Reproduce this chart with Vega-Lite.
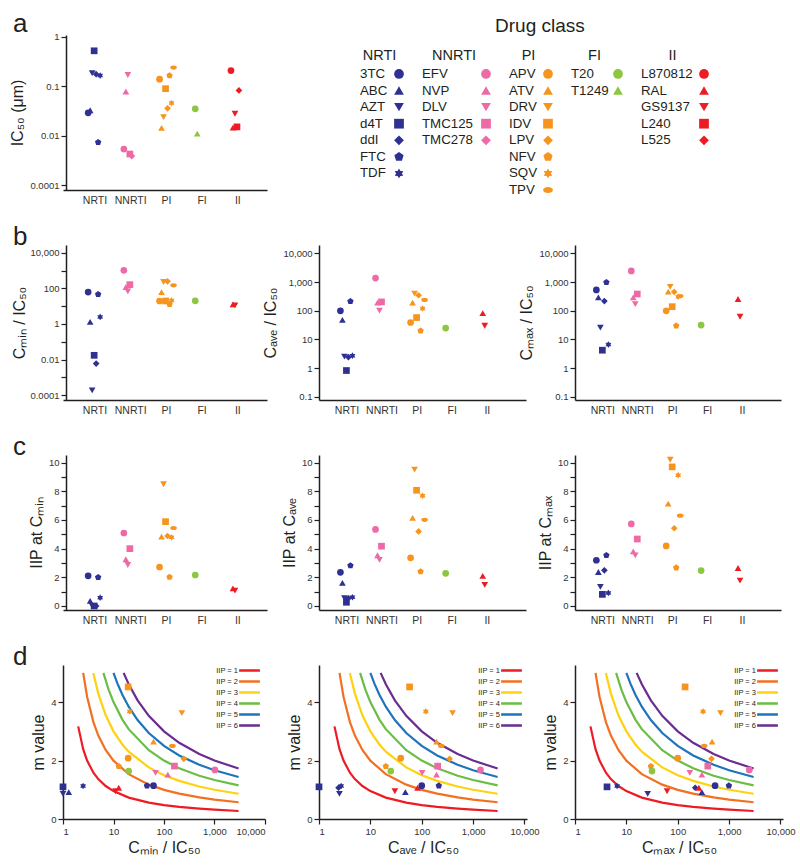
{
  "$schema": "https://vega.github.io/schema/vega-lite/v6.json",
  "padding": {"left": 9, "top": 10, "right": 5, "bottom": 5},
  "columns": 3,
  "align": "all",
  "bounds": "flush",
  "spacing": {"row": 55, "column": 48},
  "datasets": {
    "drugs": [
      {"drug":"3TC","cls":"NRTI","k":1,"ic50":0.0293,"cmin":62,"cave":100,"cmax":533,"iipmin":2.1,"iipave":2.35,"iipmax":3.19,"m":1.14},
      {"drug":"ABC","cls":"NRTI","k":2,"ic50":0.033,"cmin":1.3,"cave":48,"cmax":295,"iipmin":0.35,"iipave":1.61,"iipmax":2.37,"m":0.92},
      {"drug":"AZT","cls":"NRTI","k":3,"ic50":0.185,"cmin":0.00019,"cave":2.5,"cmax":26,"iipmin":0.0,"iipave":0.54,"iipmax":1.33,"m":0.86},
      {"drug":"d4T","cls":"NRTI","k":4,"ic50":0.525,"cmin":0.0175,"cave":0.82,"cmax":4.2,"iipmin":0.0,"iipave":0.26,"iipmax":0.81,"m":1.1},
      {"drug":"ddI","cls":"NRTI","k":5,"ic50":0.177,"cmin":0.006,"cave":2.4,"cmax":219,"iipmin":0.0,"iipave":0.54,"iipmax":2.49,"m":1.07},
      {"drug":"FTC","cls":"NRTI","k":6,"ic50":0.0074,"cmin":46,"cave":215,"cmax":990,"iipmin":2.0,"iipave":2.82,"iipmax":3.53,"m":1.14},
      {"drug":"TDF","cls":"NRTI","k":7,"ic50":0.166,"cmin":2.5,"cave":2.7,"cmax":6.6,"iipmin":0.58,"iipave":0.61,"iipmax":0.91,"m":1.13},
      {"drug":"EFV","cls":"NNRTI","k":1,"ic50":0.0054,"cmin":1020,"cave":1390,"cmax":2470,"iipmin":5.09,"iipave":5.34,"iipmax":5.72,"m":1.68},
      {"drug":"NVP","cls":"NNRTI","k":2,"ic50":0.079,"cmin":119,"cave":194,"cmax":295,"iipmin":3.26,"iipave":3.54,"iipmax":3.81,"m":1.52},
      {"drug":"DLV","cls":"NNRTI","k":3,"ic50":0.17,"cmin":68,"cave":102,"cmax":172,"iipmin":2.86,"iipave":3.22,"iipmax":3.53,"m":1.58},
      {"drug":"TMC125","cls":"NNRTI","k":4,"ic50":0.0043,"cmin":161,"cave":204,"cmax":385,"iipmin":4.0,"iipave":4.17,"iipmax":4.67,"m":1.81},
      {"drug":"TMC278","cls":"NNRTI","k":5,"ic50":0.0039},
      {"drug":"APV","cls":"PI","k":1,"ic50":0.14,"cmin":19.5,"cave":39,"cmax":100,"iipmin":2.72,"iipave":3.36,"iipmax":4.19,"m":2.08},
      {"drug":"ATV","cls":"PI","k":2,"ic50":0.0145,"cmin":62,"cave":194,"cmax":466,"iipmin":4.84,"iipave":6.15,"iipmax":7.14,"m":2.65},
      {"drug":"DRV","cls":"PI","k":3,"ic50":0.024,"cmin":226,"cave":398,"cmax":680,"iipmin":8.49,"iipave":9.51,"iipmax":10.2,"m":3.62},
      {"drug":"IDV","cls":"PI","k":4,"ic50":0.09,"cmin":19.5,"cave":58,"cmax":139,"iipmin":5.88,"iipave":8.07,"iipmax":9.7,"m":4.52},
      {"drug":"LPV","cls":"PI","k":5,"ic50":0.036,"cmin":247,"cave":348,"cmax":454,"iipmin":4.88,"iipave":5.2,"iipmax":5.42,"m":2.06},
      {"drug":"NFV","cls":"PI","k":6,"ic50":0.166,"cmin":12.7,"cave":20,"cmax":30,"iipmin":2.02,"iipave":2.4,"iipmax":2.67,"m":1.8},
      {"drug":"SQV","cls":"PI","k":7,"ic50":0.046,"cmin":21,"cave":120,"cmax":311,"iipmin":4.79,"iipave":7.69,"iipmax":9.12,"m":3.68},
      {"drug":"TPV","cls":"PI","k":8,"ic50":0.24,"cmin":147,"cave":240,"cmax":328,"iipmin":5.44,"iipave":6.01,"iipmax":6.3,"m":2.5},
      {"drug":"T20","cls":"FI","k":1,"ic50":0.0352,"cmin":20,"cave":25,"cmax":31.6,"iipmin":2.16,"iipave":2.28,"iipmax":2.47,"m":1.64},
      {"drug":"T1249","cls":"FI","k":2,"ic50":0.0111},
      {"drug":"L870812","cls":"II","k":1,"ic50":0.209},
      {"drug":"RAL","cls":"II","k":2,"ic50":0.0147,"cmin":12.7,"cave":83,"cmax":258,"iipmin":1.23,"iipave":2.1,"iipmax":2.65,"m":1.07},
      {"drug":"GS9137","cls":"II","k":3,"ic50":0.028,"cmin":11,"cave":30,"cmax":62,"iipmin":1.07,"iipave":1.47,"iipmax":1.77,"m":0.95},
      {"drug":"L240","cls":"II","k":4,"ic50":0.0152},
      {"drug":"L525","cls":"II","k":5,"ic50":0.083}
    ],
    "curves": [
      {"iip":"IIP = 1","x":2,"m":3.17},{"iip":"IIP = 1","x":2.5,"m":2.398},{"iip":"IIP = 1","x":3,"m":2.0},{"iip":"IIP = 1","x":4,"m":1.585},{"iip":"IIP = 1","x":5,"m":1.365},{"iip":"IIP = 1","x":7,"m":1.129},{"iip":"IIP = 1","x":10,"m":0.954},{"iip":"IIP = 1","x":20,"m":0.733},{"iip":"IIP = 1","x":50,"m":0.562},{"iip":"IIP = 1","x":100,"m":0.477},{"iip":"IIP = 1","x":200,"m":0.415},{"iip":"IIP = 1","x":500,"m":0.354},{"iip":"IIP = 1","x":1000,"m":0.318},{"iip":"IIP = 1","x":3000,"m":0.274},
      {"iip":"IIP = 2","x":2.51,"m":5.0},{"iip":"IIP = 2","x":3,"m":4.183},{"iip":"IIP = 2","x":4,"m":3.315},{"iip":"IIP = 2","x":5,"m":2.855},{"iip":"IIP = 2","x":7,"m":2.362},{"iip":"IIP = 2","x":10,"m":1.996},{"iip":"IIP = 2","x":20,"m":1.534},{"iip":"IIP = 2","x":50,"m":1.175},{"iip":"IIP = 2","x":100,"m":0.998},{"iip":"IIP = 2","x":200,"m":0.867},{"iip":"IIP = 2","x":500,"m":0.739},{"iip":"IIP = 2","x":1000,"m":0.665},{"iip":"IIP = 2","x":3000,"m":0.574},
      {"iip":"IIP = 3","x":3.98,"m":5.0},{"iip":"IIP = 3","x":5,"m":4.292},{"iip":"IIP = 3","x":7,"m":3.55},{"iip":"IIP = 3","x":10,"m":3.0},{"iip":"IIP = 3","x":15,"m":2.551},{"iip":"IIP = 3","x":20,"m":2.306},{"iip":"IIP = 3","x":50,"m":1.766},{"iip":"IIP = 3","x":100,"m":1.5},{"iip":"IIP = 3","x":200,"m":1.304},{"iip":"IIP = 3","x":500,"m":1.112},{"iip":"IIP = 3","x":1000,"m":1.0},{"iip":"IIP = 3","x":3000,"m":0.863},
      {"iip":"IIP = 4","x":6.31,"m":5.0},{"iip":"IIP = 4","x":8,"m":4.429},{"iip":"IIP = 4","x":10,"m":4.0},{"iip":"IIP = 4","x":15,"m":3.401},{"iip":"IIP = 4","x":20,"m":3.074},{"iip":"IIP = 4","x":50,"m":2.354},{"iip":"IIP = 4","x":100,"m":2.0},{"iip":"IIP = 4","x":200,"m":1.738},{"iip":"IIP = 4","x":500,"m":1.482},{"iip":"IIP = 4","x":1000,"m":1.333},{"iip":"IIP = 4","x":3000,"m":1.15},
      {"iip":"IIP = 5","x":10,"m":5.0},{"iip":"IIP = 5","x":12,"m":4.633},{"iip":"IIP = 5","x":15,"m":4.251},{"iip":"IIP = 5","x":20,"m":3.843},{"iip":"IIP = 5","x":30,"m":3.385},{"iip":"IIP = 5","x":50,"m":2.943},{"iip":"IIP = 5","x":100,"m":2.5},{"iip":"IIP = 5","x":200,"m":2.173},{"iip":"IIP = 5","x":500,"m":1.853},{"iip":"IIP = 5","x":1000,"m":1.667},{"iip":"IIP = 5","x":3000,"m":1.438},
      {"iip":"IIP = 6","x":15.85,"m":5.0},{"iip":"IIP = 6","x":20,"m":4.612},{"iip":"IIP = 6","x":30,"m":4.062},{"iip":"IIP = 6","x":50,"m":3.532},{"iip":"IIP = 6","x":100,"m":3.0},{"iip":"IIP = 6","x":200,"m":2.607},{"iip":"IIP = 6","x":500,"m":2.223},{"iip":"IIP = 6","x":1000,"m":2.0},{"iip":"IIP = 6","x":3000,"m":1.726}
    ]
  },
  "concat": [
    {
      "width": 204, "height": 155,
      "title": {"text": "a", "anchor": "start", "fontSize": 26, "dx": -50, "offset": -26, "baseline": "alphabetic", "frame": "group"},
      "data": {"name": "drugs"},
      "mark": {"type": "point", "filled": true, "opacity": 1, "size": 45},
      "encoding": {
        "x": {"field": "cls", "type": "nominal", "sort": ["NRTI","NNRTI","PI","FI","II"], "scale": {"domain": ["NRTI","NNRTI","PI","FI","II"], "paddingInner": 0, "paddingOuter": 0.357, "align": 0.555}, "axis": {"title": null, "ticks": false, "labelAngle": 0, "labelFontSize": 10.5, "labelPadding": 5}},
        "xOffset": {"field": "k", "type": "nominal", "scale": {"domain": [1,2,3,4,5,6,7,8], "range": [10, 26]}},
        "y": {"field": "ic50", "type": "quantitative", "scale": {"type": "log", "domain": [0.000805, 1.096], "nice": false}, "axis": {"title": "IC₅₀ (μm)", "values": [0.001, 0.01, 0.1, 1], "format": "~g", "labelExpr": "datum.value < 0.005 ? '0.0001' : datum.label", "offset": -3}},
        "fill": {"field": "cls", "type": "nominal", "scale": {"domain": ["NRTI","NNRTI","PI","FI","II"], "range": ["#2e3192","#ee6aa7","#f7941d","#8dc63f","#ed1c24"]}, "legend": null},
        "shape": {"field": "k", "type": "nominal", "scale": {"domain": [1,2,3,4,5,6,7,8], "range": ["circle","triangle-up","triangle-down","square","diamond","M0,-1L0.951,-0.309L0.588,0.809L-0.588,0.809L-0.951,-0.309Z","M0,-1L0.3,-0.52L0.866,-0.5L0.6,0L0.866,0.5L0.3,0.52L0,1L-0.3,0.52L-0.866,0.5L-0.6,0L-0.866,-0.5L-0.3,-0.52Z","M-1,0A1,0.62,0,1,1,1,0A1,0.62,0,1,1,-1,0Z"]}, "legend": null}
      }
    },
    {
      "title": {"text": "Drug class", "fontSize": 19, "anchor": "middle", "offset": -15.5, "baseline": "alphabetic", "dx": 26},
      "bounds": "flush",
      "spacing": 23,
      "hconcat": [
        {
          "width": 80, "height": 155,
          "title": {"text": "NRTI", "anchor": "middle", "fontSize": 14.5, "offset": -39.6, "baseline": "alphabetic", "frame": "group", "dx": 20.5},
          "data": {"name": "drugs"},
          "transform": [{"filter": "datum.cls === 'NRTI'"}],
          "encoding": {"y": {"field": "k", "type": "quantitative", "scale": {"domain": [-1.35, 8], "reverse": true, "nice": false, "zero": false}, "axis": null}},
          "layer": [
            {"mark": {"type": "text", "align": "left", "baseline": "middle", "fontSize": 13.3, "color": "#231f20"}, "encoding": {"x": {"datum": 0, "type": "quantitative", "scale": {"domain": [-1.051, 1], "nice": false, "zero": false}, "axis": null}, "text": {"field": "drug"}}},
            {"mark": {"type": "point", "filled": true, "opacity": 1, "size": 95}, "encoding": {"x": {"datum": 1, "type": "quantitative"},
              "fill": {"field": "cls", "type": "nominal", "scale": {"domain": ["NRTI","NNRTI","PI","FI","II"], "range": ["#2e3192","#ee6aa7","#f7941d","#8dc63f","#ed1c24"]}, "legend": null},
              "shape": {"field": "k", "type": "nominal", "scale": {"domain": [1,2,3,4,5,6,7,8], "range": ["circle","triangle-up","triangle-down","square","diamond","M0,-1L0.951,-0.309L0.588,0.809L-0.588,0.809L-0.951,-0.309Z","M0,-1L0.3,-0.52L0.866,-0.5L0.6,0L0.866,0.5L0.3,0.52L0,1L-0.3,0.52L-0.866,0.5L-0.6,0L-0.866,-0.5L-0.3,-0.52Z","M-1,0A1,0.62,0,1,1,1,0A1,0.62,0,1,1,-1,0Z"]}, "legend": null}}}
          ]
        },
        {
          "width": 64, "height": 155,
          "title": {"text": "NNRTI", "anchor": "middle", "fontSize": 14.5, "offset": -39.6, "baseline": "alphabetic", "frame": "group"},
          "data": {"name": "drugs"},
          "transform": [{"filter": "datum.cls === 'NNRTI'"}],
          "encoding": {"y": {"field": "k", "type": "quantitative", "scale": {"domain": [-1.35, 8], "reverse": true, "nice": false, "zero": false}, "axis": null}},
          "layer": [
            {"mark": {"type": "text", "align": "left", "baseline": "middle", "fontSize": 13.3, "color": "#231f20"}, "encoding": {"x": {"datum": 0, "type": "quantitative", "scale": {"domain": [0, 1], "nice": false}, "axis": null}, "text": {"field": "drug"}}},
            {"mark": {"type": "point", "filled": true, "opacity": 1, "size": 95}, "encoding": {"x": {"datum": 1, "type": "quantitative"},
              "fill": {"field": "cls", "type": "nominal", "scale": {"domain": ["NRTI","NNRTI","PI","FI","II"], "range": ["#2e3192","#ee6aa7","#f7941d","#8dc63f","#ed1c24"]}, "legend": null},
              "shape": {"field": "k", "type": "nominal", "scale": {"domain": [1,2,3,4,5,6,7,8], "range": ["circle","triangle-up","triangle-down","square","diamond","M0,-1L0.951,-0.309L0.588,0.809L-0.588,0.809L-0.951,-0.309Z","M0,-1L0.3,-0.52L0.866,-0.5L0.6,0L0.866,0.5L0.3,0.52L0,1L-0.3,0.52L-0.866,0.5L-0.6,0L-0.866,-0.5L-0.3,-0.52Z","M-1,0A1,0.62,0,1,1,1,0A1,0.62,0,1,1,-1,0Z"]}, "legend": null}}}
          ]
        },
        {
          "width": 39, "height": 155,
          "title": {"text": "PI", "anchor": "middle", "fontSize": 14.5, "offset": -39.6, "baseline": "alphabetic", "frame": "group"},
          "data": {"name": "drugs"},
          "transform": [{"filter": "datum.cls === 'PI'"}],
          "encoding": {"y": {"field": "k", "type": "quantitative", "scale": {"domain": [-1.35, 8], "reverse": true, "nice": false, "zero": false}, "axis": null}},
          "layer": [
            {"mark": {"type": "text", "align": "left", "baseline": "middle", "fontSize": 13.3, "color": "#231f20"}, "encoding": {"x": {"datum": 0, "type": "quantitative", "scale": {"domain": [0, 1], "nice": false}, "axis": null}, "text": {"field": "drug"}}},
            {"mark": {"type": "point", "filled": true, "opacity": 1, "size": 95}, "encoding": {"x": {"datum": 1, "type": "quantitative"},
              "fill": {"field": "cls", "type": "nominal", "scale": {"domain": ["NRTI","NNRTI","PI","FI","II"], "range": ["#2e3192","#ee6aa7","#f7941d","#8dc63f","#ed1c24"]}, "legend": null},
              "shape": {"field": "k", "type": "nominal", "scale": {"domain": [1,2,3,4,5,6,7,8], "range": ["circle","triangle-up","triangle-down","square","diamond","M0,-1L0.951,-0.309L0.588,0.809L-0.588,0.809L-0.951,-0.309Z","M0,-1L0.3,-0.52L0.866,-0.5L0.6,0L0.866,0.5L0.3,0.52L0,1L-0.3,0.52L-0.866,0.5L-0.6,0L-0.866,-0.5L-0.3,-0.52Z","M-1,0A1,0.62,0,1,1,1,0A1,0.62,0,1,1,-1,0Z"]}, "legend": null}}}
          ]
        },
        {
          "width": 47, "height": 155,
          "title": {"text": "FI", "anchor": "middle", "fontSize": 14.5, "offset": -39.6, "baseline": "alphabetic", "frame": "group"},
          "data": {"name": "drugs"},
          "transform": [{"filter": "datum.cls === 'FI'"}],
          "encoding": {"y": {"field": "k", "type": "quantitative", "scale": {"domain": [-1.35, 8], "reverse": true, "nice": false, "zero": false}, "axis": null}},
          "layer": [
            {"mark": {"type": "text", "align": "left", "baseline": "middle", "fontSize": 13.3, "color": "#231f20"}, "encoding": {"x": {"datum": 0, "type": "quantitative", "scale": {"domain": [0, 1], "nice": false}, "axis": null}, "text": {"field": "drug"}}},
            {"mark": {"type": "point", "filled": true, "opacity": 1, "size": 95}, "encoding": {"x": {"datum": 1, "type": "quantitative"},
              "fill": {"field": "cls", "type": "nominal", "scale": {"domain": ["NRTI","NNRTI","PI","FI","II"], "range": ["#2e3192","#ee6aa7","#f7941d","#8dc63f","#ed1c24"]}, "legend": null},
              "shape": {"field": "k", "type": "nominal", "scale": {"domain": [1,2,3,4,5,6,7,8], "range": ["circle","triangle-up","triangle-down","square","diamond","M0,-1L0.951,-0.309L0.588,0.809L-0.588,0.809L-0.951,-0.309Z","M0,-1L0.3,-0.52L0.866,-0.5L0.6,0L0.866,0.5L0.3,0.52L0,1L-0.3,0.52L-0.866,0.5L-0.6,0L-0.866,-0.5L-0.3,-0.52Z","M-1,0A1,0.62,0,1,1,1,0A1,0.62,0,1,1,-1,0Z"]}, "legend": null}}}
          ]
        },
        {
          "width": 63, "height": 155,
          "title": {"text": "II", "anchor": "middle", "fontSize": 14.5, "offset": -39.6, "baseline": "alphabetic", "frame": "group"},
          "data": {"name": "drugs"},
          "transform": [{"filter": "datum.cls === 'II'"}],
          "encoding": {"y": {"field": "k", "type": "quantitative", "scale": {"domain": [-1.35, 8], "reverse": true, "nice": false, "zero": false}, "axis": null}},
          "layer": [
            {"mark": {"type": "text", "align": "left", "baseline": "middle", "fontSize": 13.3, "color": "#231f20"}, "encoding": {"x": {"datum": 0, "type": "quantitative", "scale": {"domain": [0, 1], "nice": false}, "axis": null}, "text": {"field": "drug"}}},
            {"mark": {"type": "point", "filled": true, "opacity": 1, "size": 95}, "encoding": {"x": {"datum": 1, "type": "quantitative"},
              "fill": {"field": "cls", "type": "nominal", "scale": {"domain": ["NRTI","NNRTI","PI","FI","II"], "range": ["#2e3192","#ee6aa7","#f7941d","#8dc63f","#ed1c24"]}, "legend": null},
              "shape": {"field": "k", "type": "nominal", "scale": {"domain": [1,2,3,4,5,6,7,8], "range": ["circle","triangle-up","triangle-down","square","diamond","M0,-1L0.951,-0.309L0.588,0.809L-0.588,0.809L-0.951,-0.309Z","M0,-1L0.3,-0.52L0.866,-0.5L0.6,0L0.866,0.5L0.3,0.52L0,1L-0.3,0.52L-0.866,0.5L-0.6,0L-0.866,-0.5L-0.3,-0.52Z","M-1,0A1,0.62,0,1,1,1,0A1,0.62,0,1,1,-1,0Z"]}, "legend": null}}}
          ]
        }
      ]
    },
    {
      "width": 1, "height": 1,
      "data": {"values": []},
      "mark": {"type": "point", "opacity": 0},
      "encoding": {}
    },
    {
      "width": 204, "height": 155,
      "title": {"text": "b", "anchor": "start", "fontSize": 26, "dx": -50, "offset": -26, "baseline": "alphabetic", "frame": "group"},
      "data": {"name": "drugs"},
      "mark": {"type": "point", "filled": true, "opacity": 1, "size": 45},
      "encoding": {
        "x": {"field": "cls", "type": "nominal", "sort": ["NRTI","NNRTI","PI","FI","II"], "scale": {"domain": ["NRTI","NNRTI","PI","FI","II"], "paddingInner": 0, "paddingOuter": 0.357, "align": 0.555}, "axis": {"title": null, "ticks": false, "labelAngle": 0, "labelFontSize": 10.5, "labelPadding": 5}},
        "xOffset": {"field": "k", "type": "nominal", "scale": {"domain": [1,2,3,4,5,6,7,8], "range": [10, 26]}},
        "y": {"field": "cmin", "type": "quantitative", "scale": {"type": "log", "domain": [0.0000545, 27000], "nice": false}, "axis": {"title": "Cₘᵢₙ / IC₅₀", "titlePadding": 2, "values": [0.0001, 0.001, 0.01, 0.1, 1, 10, 100, 1000, 10000], "format": ",~g", "labelExpr": "(round(log(datum.value)/LN10) % 2) == 0 ? datum.label : ''", "offset": -3}},
        "fill": {"field": "cls", "type": "nominal", "scale": {"domain": ["NRTI","NNRTI","PI","FI","II"], "range": ["#2e3192","#ee6aa7","#f7941d","#8dc63f","#ed1c24"]}, "legend": null},
        "shape": {"field": "k", "type": "nominal", "scale": {"domain": [1,2,3,4,5,6,7,8], "range": ["circle","triangle-up","triangle-down","square","diamond","M0,-1L0.951,-0.309L0.588,0.809L-0.588,0.809L-0.951,-0.309Z","M0,-1L0.3,-0.52L0.866,-0.5L0.6,0L0.866,0.5L0.3,0.52L0,1L-0.3,0.52L-0.866,0.5L-0.6,0L-0.866,-0.5L-0.3,-0.52Z","M-1,0A1,0.62,0,1,1,1,0A1,0.62,0,1,1,-1,0Z"]}, "legend": null}
      }
    },
    {
      "width": 207, "height": 155,
      "data": {"name": "drugs"},
      "mark": {"type": "point", "filled": true, "opacity": 1, "size": 45},
      "encoding": {
        "x": {"field": "cls", "type": "nominal", "sort": ["NRTI","NNRTI","PI","FI","II"], "scale": {"domain": ["NRTI","NNRTI","PI","FI","II"], "paddingInner": 0, "paddingOuter": 0.45, "align": 0.33}, "axis": {"title": null, "ticks": false, "labelAngle": 0, "labelFontSize": 10.5, "labelPadding": 5}},
        "xOffset": {"field": "k", "type": "nominal", "scale": {"domain": [1,2,3,4,5,6,7,8], "range": [10, 26]}},
        "y": {"field": "cave", "type": "quantitative", "scale": {"type": "log", "domain": [0.0767, 19800], "nice": false}, "axis": {"title": "Cₐᵥₑ / IC₅₀", "values": [0.1, 1, 10, 100, 1000, 10000], "format": ",~g"}},
        "fill": {"field": "cls", "type": "nominal", "scale": {"domain": ["NRTI","NNRTI","PI","FI","II"], "range": ["#2e3192","#ee6aa7","#f7941d","#8dc63f","#ed1c24"]}, "legend": null},
        "shape": {"field": "k", "type": "nominal", "scale": {"domain": [1,2,3,4,5,6,7,8], "range": ["circle","triangle-up","triangle-down","square","diamond","M0,-1L0.951,-0.309L0.588,0.809L-0.588,0.809L-0.951,-0.309Z","M0,-1L0.3,-0.52L0.866,-0.5L0.6,0L0.866,0.5L0.3,0.52L0,1L-0.3,0.52L-0.866,0.5L-0.6,0L-0.866,-0.5L-0.3,-0.52Z","M-1,0A1,0.62,0,1,1,1,0A1,0.62,0,1,1,-1,0Z"]}, "legend": null}
      }
    },
    {
      "width": 206, "height": 155,
      "data": {"name": "drugs"},
      "mark": {"type": "point", "filled": true, "opacity": 1, "size": 45},
      "encoding": {
        "x": {"field": "cls", "type": "nominal", "sort": ["NRTI","NNRTI","PI","FI","II"], "scale": {"domain": ["NRTI","NNRTI","PI","FI","II"], "paddingInner": 0, "paddingOuter": 0.45, "align": 0.33}, "axis": {"title": null, "ticks": false, "labelAngle": 0, "labelFontSize": 10.5, "labelPadding": 5}},
        "xOffset": {"field": "k", "type": "nominal", "scale": {"domain": [1,2,3,4,5,6,7,8], "range": [10, 26]}},
        "y": {"field": "cmax", "type": "quantitative", "scale": {"type": "log", "domain": [0.0767, 19800], "nice": false}, "axis": {"title": "Cₘₐₓ / IC₅₀", "values": [0.1, 1, 10, 100, 1000, 10000], "format": ",~g"}},
        "fill": {"field": "cls", "type": "nominal", "scale": {"domain": ["NRTI","NNRTI","PI","FI","II"], "range": ["#2e3192","#ee6aa7","#f7941d","#8dc63f","#ed1c24"]}, "legend": null},
        "shape": {"field": "k", "type": "nominal", "scale": {"domain": [1,2,3,4,5,6,7,8], "range": ["circle","triangle-up","triangle-down","square","diamond","M0,-1L0.951,-0.309L0.588,0.809L-0.588,0.809L-0.951,-0.309Z","M0,-1L0.3,-0.52L0.866,-0.5L0.6,0L0.866,0.5L0.3,0.52L0,1L-0.3,0.52L-0.866,0.5L-0.6,0L-0.866,-0.5L-0.3,-0.52Z","M-1,0A1,0.62,0,1,1,1,0A1,0.62,0,1,1,-1,0Z"]}, "legend": null}
      }
    },
    {
      "width": 204, "height": 155,
      "title": {"text": "c", "anchor": "start", "fontSize": 26, "dx": -50, "offset": -26, "baseline": "alphabetic", "frame": "group"},
      "data": {"name": "drugs"},
      "mark": {"type": "point", "filled": true, "opacity": 1, "size": 45},
      "encoding": {
        "x": {"field": "cls", "type": "nominal", "sort": ["NRTI","NNRTI","PI","FI","II"], "scale": {"domain": ["NRTI","NNRTI","PI","FI","II"], "paddingInner": 0, "paddingOuter": 0.357, "align": 0.555}, "axis": {"title": null, "ticks": false, "labelAngle": 0, "labelFontSize": 10.5, "labelPadding": 5}},
        "xOffset": {"field": "k", "type": "nominal", "scale": {"domain": [1,2,3,4,5,6,7,8], "range": [10, 26]}},
        "y": {"field": "iipmin", "type": "quantitative", "scale": {"domain": [-0.28, 10.53], "nice": false, "zero": false}, "axis": {"title": "IIP at Cₘᵢₙ", "values": [0,1,2,3,4,5,6,7,8,9,10], "labelExpr": "datum.value % 2 == 0 ? datum.label : ''", "offset": -3}},
        "fill": {"field": "cls", "type": "nominal", "scale": {"domain": ["NRTI","NNRTI","PI","FI","II"], "range": ["#2e3192","#ee6aa7","#f7941d","#8dc63f","#ed1c24"]}, "legend": null},
        "shape": {"field": "k", "type": "nominal", "scale": {"domain": [1,2,3,4,5,6,7,8], "range": ["circle","triangle-up","triangle-down","square","diamond","M0,-1L0.951,-0.309L0.588,0.809L-0.588,0.809L-0.951,-0.309Z","M0,-1L0.3,-0.52L0.866,-0.5L0.6,0L0.866,0.5L0.3,0.52L0,1L-0.3,0.52L-0.866,0.5L-0.6,0L-0.866,-0.5L-0.3,-0.52Z","M-1,0A1,0.62,0,1,1,1,0A1,0.62,0,1,1,-1,0Z"]}, "legend": null}
      }
    },
    {
      "width": 207, "height": 155,
      "data": {"name": "drugs"},
      "mark": {"type": "point", "filled": true, "opacity": 1, "size": 45},
      "encoding": {
        "x": {"field": "cls", "type": "nominal", "sort": ["NRTI","NNRTI","PI","FI","II"], "scale": {"domain": ["NRTI","NNRTI","PI","FI","II"], "paddingInner": 0, "paddingOuter": 0.45, "align": 0.33}, "axis": {"title": null, "ticks": false, "labelAngle": 0, "labelFontSize": 10.5, "labelPadding": 5}},
        "xOffset": {"field": "k", "type": "nominal", "scale": {"domain": [1,2,3,4,5,6,7,8], "range": [10, 26]}},
        "y": {"field": "iipave", "type": "quantitative", "scale": {"domain": [-0.28, 10.53], "nice": false, "zero": false}, "axis": {"title": "IIP at Cₐᵥₑ", "values": [0,1,2,3,4,5,6,7,8,9,10], "labelExpr": "datum.value % 2 == 0 ? datum.label : ''"}},
        "fill": {"field": "cls", "type": "nominal", "scale": {"domain": ["NRTI","NNRTI","PI","FI","II"], "range": ["#2e3192","#ee6aa7","#f7941d","#8dc63f","#ed1c24"]}, "legend": null},
        "shape": {"field": "k", "type": "nominal", "scale": {"domain": [1,2,3,4,5,6,7,8], "range": ["circle","triangle-up","triangle-down","square","diamond","M0,-1L0.951,-0.309L0.588,0.809L-0.588,0.809L-0.951,-0.309Z","M0,-1L0.3,-0.52L0.866,-0.5L0.6,0L0.866,0.5L0.3,0.52L0,1L-0.3,0.52L-0.866,0.5L-0.6,0L-0.866,-0.5L-0.3,-0.52Z","M-1,0A1,0.62,0,1,1,1,0A1,0.62,0,1,1,-1,0Z"]}, "legend": null}
      }
    },
    {
      "width": 206, "height": 155,
      "data": {"name": "drugs"},
      "mark": {"type": "point", "filled": true, "opacity": 1, "size": 45},
      "encoding": {
        "x": {"field": "cls", "type": "nominal", "sort": ["NRTI","NNRTI","PI","FI","II"], "scale": {"domain": ["NRTI","NNRTI","PI","FI","II"], "paddingInner": 0, "paddingOuter": 0.45, "align": 0.33}, "axis": {"title": null, "ticks": false, "labelAngle": 0, "labelFontSize": 10.5, "labelPadding": 5}},
        "xOffset": {"field": "k", "type": "nominal", "scale": {"domain": [1,2,3,4,5,6,7,8], "range": [10, 26]}},
        "y": {"field": "iipmax", "type": "quantitative", "scale": {"domain": [-0.28, 10.53], "nice": false, "zero": false}, "axis": {"title": "IIP at Cₘₐₓ", "values": [0,1,2,3,4,5,6,7,8,9,10], "labelExpr": "datum.value % 2 == 0 ? datum.label : ''"}},
        "fill": {"field": "cls", "type": "nominal", "scale": {"domain": ["NRTI","NNRTI","PI","FI","II"], "range": ["#2e3192","#ee6aa7","#f7941d","#8dc63f","#ed1c24"]}, "legend": null},
        "shape": {"field": "k", "type": "nominal", "scale": {"domain": [1,2,3,4,5,6,7,8], "range": ["circle","triangle-up","triangle-down","square","diamond","M0,-1L0.951,-0.309L0.588,0.809L-0.588,0.809L-0.951,-0.309Z","M0,-1L0.3,-0.52L0.866,-0.5L0.6,0L0.866,0.5L0.3,0.52L0,1L-0.3,0.52L-0.866,0.5L-0.6,0L-0.866,-0.5L-0.3,-0.52Z","M-1,0A1,0.62,0,1,1,1,0A1,0.62,0,1,1,-1,0Z"]}, "legend": null}
      }
    },
    {
      "width": 202, "height": 154,
      "title": {"text": "d", "anchor": "start", "fontSize": 26, "dx": -50, "offset": -26, "baseline": "alphabetic", "frame": "group"},
      "layer": [
        {
          "data": {"name": "curves"},
          "mark": {"type": "line", "strokeWidth": 2.2},
          "encoding": {
            "x": {"field": "x", "type": "quantitative", "title": "Cₘᵢₙ / IC₅₀", "scale": {"type": "log", "domain": [1, 10000], "nice": false, "clamp": true}, "axis": {"values": [1, 10, 100, 1000, 10000], "format": ",~g"}},
            "y": {"field": "m", "type": "quantitative", "title": "m value", "scale": {"domain": [0, 5.27], "nice": false}, "axis": {"values": [0,0.5,1,1.5,2,2.5,3,3.5,4,4.5,5], "labelExpr": "datum.value % 1 == 0 ? datum.label : ''"}},
            "stroke": {"field": "iip", "type": "nominal", "scale": {"domain": ["IIP = 1","IIP = 2","IIP = 3","IIP = 4","IIP = 5","IIP = 6"], "range": ["#ed1c24","#f37021","#fdd20e","#6abd45","#1c75bc","#6a2c91"]}, "legend": {"title": null, "orient": "top-right", "offset": 0, "padding": 0, "symbolType": "M-2.6,0L2.6,0", "symbolSize": 64, "symbolStrokeWidth": 2.5, "labelFontSize": 7.5, "labelColor": "#231f20", "labelAlign": "right", "labelOffset": -17, "rowPadding": 0}}
          }
        },
        {
          "data": {"name": "drugs"},
          "mark": {"type": "point", "filled": true, "opacity": 1, "size": 45},
          "encoding": {
            "x": {"field": "cmin", "type": "quantitative", "title": "Cₘᵢₙ / IC₅₀"},
            "y": {"field": "m", "type": "quantitative", "title": "m value"},
            "fill": {"field": "cls", "type": "nominal", "scale": {"domain": ["NRTI","NNRTI","PI","FI","II"], "range": ["#2e3192","#ee6aa7","#f7941d","#8dc63f","#ed1c24"]}, "legend": null},
            "shape": {"field": "k", "type": "nominal", "scale": {"domain": [1,2,3,4,5,6,7,8], "range": ["circle","triangle-up","triangle-down","square","diamond","M0,-1L0.951,-0.309L0.588,0.809L-0.588,0.809L-0.951,-0.309Z","M0,-1L0.3,-0.52L0.866,-0.5L0.6,0L0.866,0.5L0.3,0.52L0,1L-0.3,0.52L-0.866,0.5L-0.6,0L-0.866,-0.5L-0.3,-0.52Z","M-1,0A1,0.62,0,1,1,1,0A1,0.62,0,1,1,-1,0Z"]}, "legend": null}
          }
        }
      ]
    },
    {
      "width": 208, "height": 154,
      "layer": [
        {
          "data": {"name": "curves"},
          "mark": {"type": "line", "strokeWidth": 2.2},
          "encoding": {
            "x": {"field": "x", "type": "quantitative", "title": "Cₐᵥₑ / IC₅₀", "scale": {"type": "log", "domain": [1, 11200], "nice": false, "clamp": true}, "axis": {"values": [1, 10, 100, 1000, 10000], "format": ",~g"}},
            "y": {"field": "m", "type": "quantitative", "title": "m value", "scale": {"domain": [0, 5.27], "nice": false}, "axis": {"values": [0,0.5,1,1.5,2,2.5,3,3.5,4,4.5,5], "labelExpr": "datum.value % 1 == 0 ? datum.label : ''"}},
            "stroke": {"field": "iip", "type": "nominal", "scale": {"domain": ["IIP = 1","IIP = 2","IIP = 3","IIP = 4","IIP = 5","IIP = 6"], "range": ["#ed1c24","#f37021","#fdd20e","#6abd45","#1c75bc","#6a2c91"]}, "legend": {"title": null, "orient": "top-right", "offset": 0, "padding": 0, "symbolType": "M-2.6,0L2.6,0", "symbolSize": 64, "symbolStrokeWidth": 2.5, "labelFontSize": 7.5, "labelColor": "#231f20", "labelAlign": "right", "labelOffset": -17, "rowPadding": 0}}
          }
        },
        {
          "data": {"name": "drugs"},
          "mark": {"type": "point", "filled": true, "opacity": 1, "size": 45},
          "encoding": {
            "x": {"field": "cave", "type": "quantitative", "title": "Cₐᵥₑ / IC₅₀"},
            "y": {"field": "m", "type": "quantitative", "title": "m value"},
            "fill": {"field": "cls", "type": "nominal", "scale": {"domain": ["NRTI","NNRTI","PI","FI","II"], "range": ["#2e3192","#ee6aa7","#f7941d","#8dc63f","#ed1c24"]}, "legend": null},
            "shape": {"field": "k", "type": "nominal", "scale": {"domain": [1,2,3,4,5,6,7,8], "range": ["circle","triangle-up","triangle-down","square","diamond","M0,-1L0.951,-0.309L0.588,0.809L-0.588,0.809L-0.951,-0.309Z","M0,-1L0.3,-0.52L0.866,-0.5L0.6,0L0.866,0.5L0.3,0.52L0,1L-0.3,0.52L-0.866,0.5L-0.6,0L-0.866,-0.5L-0.3,-0.52Z","M-1,0A1,0.62,0,1,1,1,0A1,0.62,0,1,1,-1,0Z"]}, "legend": null}
          }
        }
      ]
    },
    {
      "width": 208, "height": 154,
      "layer": [
        {
          "data": {"name": "curves"},
          "mark": {"type": "line", "strokeWidth": 2.2},
          "encoding": {
            "x": {"field": "x", "type": "quantitative", "title": "Cₘₐₓ / IC₅₀", "scale": {"type": "log", "domain": [1, 11200], "nice": false, "clamp": true}, "axis": {"values": [1, 10, 100, 1000, 10000], "format": ",~g"}},
            "y": {"field": "m", "type": "quantitative", "title": "m value", "scale": {"domain": [0, 5.27], "nice": false}, "axis": {"values": [0,0.5,1,1.5,2,2.5,3,3.5,4,4.5,5], "labelExpr": "datum.value % 1 == 0 ? datum.label : ''"}},
            "stroke": {"field": "iip", "type": "nominal", "scale": {"domain": ["IIP = 1","IIP = 2","IIP = 3","IIP = 4","IIP = 5","IIP = 6"], "range": ["#ed1c24","#f37021","#fdd20e","#6abd45","#1c75bc","#6a2c91"]}, "legend": {"title": null, "orient": "top-right", "offset": 0, "padding": 0, "symbolType": "M-2.6,0L2.6,0", "symbolSize": 64, "symbolStrokeWidth": 2.5, "labelFontSize": 7.5, "labelColor": "#231f20", "labelAlign": "right", "labelOffset": -17, "rowPadding": 0}}
          }
        },
        {
          "data": {"name": "drugs"},
          "mark": {"type": "point", "filled": true, "opacity": 1, "size": 45},
          "encoding": {
            "x": {"field": "cmax", "type": "quantitative", "title": "Cₘₐₓ / IC₅₀"},
            "y": {"field": "m", "type": "quantitative", "title": "m value"},
            "fill": {"field": "cls", "type": "nominal", "scale": {"domain": ["NRTI","NNRTI","PI","FI","II"], "range": ["#2e3192","#ee6aa7","#f7941d","#8dc63f","#ed1c24"]}, "legend": null},
            "shape": {"field": "k", "type": "nominal", "scale": {"domain": [1,2,3,4,5,6,7,8], "range": ["circle","triangle-up","triangle-down","square","diamond","M0,-1L0.951,-0.309L0.588,0.809L-0.588,0.809L-0.951,-0.309Z","M0,-1L0.3,-0.52L0.866,-0.5L0.6,0L0.866,0.5L0.3,0.52L0,1L-0.3,0.52L-0.866,0.5L-0.6,0L-0.866,-0.5L-0.3,-0.52Z","M-1,0A1,0.62,0,1,1,1,0A1,0.62,0,1,1,-1,0Z"]}, "legend": null}
          }
        }
      ]
    }
  ],
  "resolve": {"scale": {"stroke": "independent"}, "legend": {"stroke": "independent"}},
  "config": {
    "font": "Liberation Sans",
    "view": {"stroke": null},
    "title": {"fontWeight": "normal", "color": "#231f20"},
    "axis": {"grid": false, "domainColor": "#231f20", "domainWidth": 1.5, "tickColor": "#231f20", "tickWidth": 1.2, "tickSize": 5, "labelColor": "#333333", "labelFontSize": 9.5, "titleFontSize": 16, "titleFontWeight": "normal", "titleColor": "#231f20"}
  }
}
